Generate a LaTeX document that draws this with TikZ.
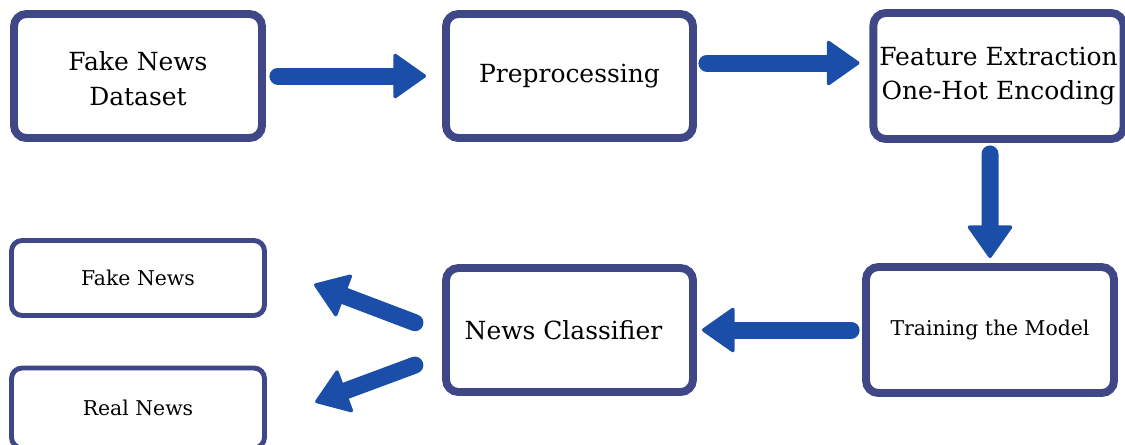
\documentclass[tikz,border=0pt]{standalone}
\usepackage{fontspec}
\setmainfont{DejaVu Serif}
\usetikzlibrary{arrows.meta}
\definecolor{boxline}{RGB}{64,71,135}
\definecolor{flowblue}{RGB}{27,78,168}
\begin{document}
\begin{tikzpicture}[x=0.02cm,y=-0.02cm,
    stage/.style={draw=boxline,line width=4.5pt,rounded corners=7pt,align=center,
      font=\fontsize{14.2}{19.8}\selectfont},
    result/.style={draw=boxline,line width=2.8pt,rounded corners=6pt,
      font=\fontsize{11.6}{14}\selectfont},
    flow/.style={draw=flowblue,line width=0.34cm,line cap=round,
      -{Triangle[length=0.68cm,width=0.94cm,round,line width=2pt]}}]
    \useasboundingbox (0,0) rectangle (1125,444);
    \node[stage,minimum width=4.96cm,minimum height=2.48cm] at (138,76) (data) {\\[-6pt]Fake News\\Dataset};
    \node[stage,minimum width=4.94cm,minimum height=2.48cm] at (569.5,76) (prep) {Preprocessing};
    \node[stage,minimum width=4.92cm,minimum height=2.52cm] at (998.5,76) (feat) {Feature Extraction\\One-Hot Encoding};
    \node[stage,minimum width=4.96cm,minimum height=2.52cm,font=\fontsize{11.6}{14}\selectfont] at (990,330) (train) {Training the Model};
    \node[stage,minimum width=4.94cm,minimum height=2.48cm] at (569.5,330) (clf) {News Classifier\hspace{0.24cm}};
    \node[result,minimum width=5.06cm,minimum height=1.5cm] at (138,278) (fake) {Fake News};
    \node[result,minimum width=5.06cm,minimum height=1.6cm] at (138,408) (real) {Real News};
    \draw[flow,shorten <=0.24cm,shorten >=0.32cm] (data) -- (prep);
    \draw[flow,shorten <=0.2cm,shorten >=0.2cm] ([yshift=0.26cm]prep.east) -- ([yshift=0.26cm]feat.west);
    \draw[flow,shorten <=0.22cm,shorten >=0.1cm] ([xshift=-0.17cm]feat.south) -- (train.north);
    \draw[flow,shorten <=0.22cm,shorten >=0.1cm] (train.west) -- (clf.east);
    \draw[flow,shorten <=0.58cm,shorten >=1.01cm] ([yshift=-0.06cm]clf.west) -- ([yshift=0.23cm]fake.east);
    \draw[flow,shorten <=0.58cm,shorten >=1.03cm] ([yshift=-0.5cm]clf.west) -- ([yshift=-0.24cm]real.east);
  \end{tikzpicture}
\end{document}
